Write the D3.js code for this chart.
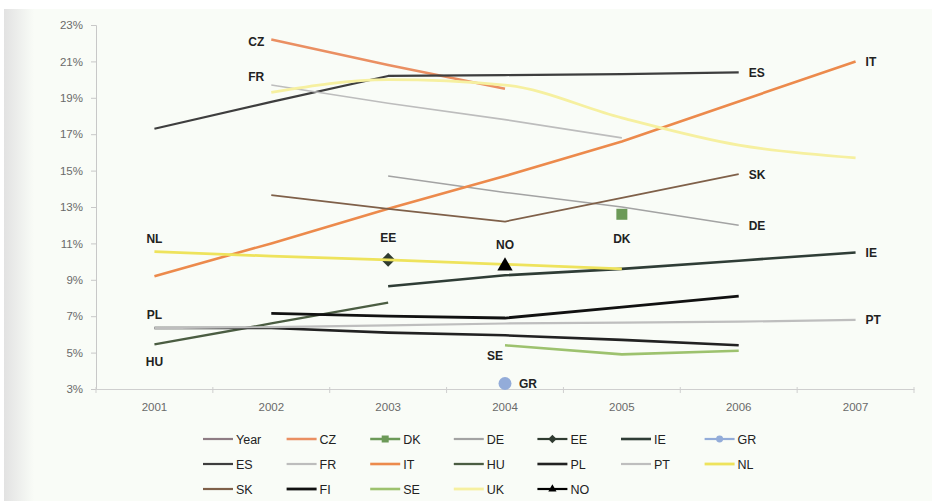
<!DOCTYPE html>
<html><head><meta charset="utf-8">
<script src="https://cdn.jsdelivr.net/npm/d3@7"></script>
<style>html,body{margin:0;padding:0;background:#fff;}svg{display:block;font-family:"Liberation Sans",Arial,sans-serif;}</style>
</head><body>
<svg id="c" width="932" height="501"></svg>
<script>
const years = ["2001","2002","2003","2004","2005","2006","2007"];
const yTicks = [3,5,7,9,11,13,15,17,19,21,23];
const seriesNames = ["Year","CZ","DK","DE","EE","IE","GR","ES","FR","IT","HU","PL","PT","NL","SK","FI","SE","UK","NO"];
const Year = [null,null,null,null,null,null,null];
const CZ = [null,22.2,20.8,19.5,null,null,null];
const DK = [null,null,null,null,12.6,null,null];
const DE = [null,null,14.7,13.8,13.0,12.0,null];
const EE = [null,null,10.1,null,null,null,null];
const IE = [null,null,8.65,9.25,9.6,10.05,10.5];
const GR = [null,null,null,3.3,null,null,null];
const ES = [17.3,18.78,20.2,20.25,20.3,20.4,null];
const FR = [null,19.7,18.7,17.8,16.8,null,null];
const IT = [9.2,11.0,12.9,14.7,16.6,18.8,21.0];
const HU = [5.45,6.6,7.75,null,null,null,null];
const PL = [6.35,6.35,6.1,5.95,5.7,5.4,null];
const PT = [6.35,6.4,6.5,6.6,6.65,6.7,6.8];
const NL = [10.55,10.3,10.1,9.85,9.6,null,null];
const SK = [null,13.65,12.9,12.2,13.5,14.8,null];
const FI = [null,7.15,7.0,6.9,7.5,8.1,null];
const SE = [null,null,null,5.4,4.9,5.1,null];
const UK = [null,19.3,20.0,19.7,17.9,16.4,15.7];
const NO = [null,null,null,9.7,null,null,null];
// label: series, index of point, placement
const labels = [
  ["CZ",1,"left"],["FR",1,"leftAbove"],["ES",5,"right"],["IT",6,"right"],
  ["SK",5,"right"],["DE",5,"right"],["DK",4,"below"],["EE",2,"above"],
  ["NO",3,"above"],["NL",0,"above"],["IE",6,"right"],["PL",0,"above"],
  ["PT",6,"right"],["HU",0,"below"],["SE",3,"leftBelow"],["GR",3,"right"]
];

const values = {Year,CZ,DK,DE,EE,IE,GR,ES,FR,IT,HU,PL,PT,NL,SK,FI,SE,UK,NO};
const style = {
  Year:{c:"#8e7c84",w:2},
  CZ:{c:"#ea8f62",w:2.5},
  DK:{c:"#6c9a58",w:2.5,m:"square",ms:11},
  DE:{c:"#a3a3a3",w:1.5},
  EE:{c:"#2f3b30",w:2,m:"diamond",ms:10},
  IE:{c:"#2f3d36",w:2.6},
  GR:{c:"#93acd9",w:2,m:"circle",ms:13},
  ES:{c:"#3e3e3e",w:2.2},
  FR:{c:"#bdbdbd",w:1.6},
  IT:{c:"#ec8a4c",w:2.6},
  HU:{c:"#4b5d42",w:2.3},
  PL:{c:"#222222",w:2.6},
  PT:{c:"#bebebe",w:2.2},
  NL:{c:"#eee35c",w:2.8},
  SK:{c:"#7f6049",w:1.8},
  FI:{c:"#111111",w:2.8},
  SE:{c:"#9dc26e",w:2.6},
  UK:{c:"#f6f0a0",w:2.8,curve:true},
  NO:{c:"#000000",w:2,m:"triangle",ms:13}
};

const svg = d3.select("#c");
const defs = svg.append("defs");
const g1 = defs.append("linearGradient").attr("id","lg").attr("x1","0").attr("x2","1");
g1.append("stop").attr("offset","0").attr("stop-color","#e2e2e2");
g1.append("stop").attr("offset","1").attr("stop-color","#f9fcf7");
svg.append("rect").attr("x",4).attr("y",9).attr("width",928).attr("height",492).attr("fill","#f9fcf7");
svg.append("rect").attr("x",4).attr("y",9).attr("width",30).attr("height",492).attr("fill","url(#lg)");

const pL=96, pR=914, pT=25, pB=389;
const x = d3.scaleBand().domain(years).range([pL,pR]);
const y = d3.scaleLinear().domain([3,23]).range([pB,pT]);
const cx = i => x(years[i]) + x.bandwidth()/2;

// axes
const ya = svg.append("g").attr("transform",`translate(${pL},0)`)
  .call(d3.axisLeft(y).tickValues(yTicks).tickSize(5).tickPadding(8).tickFormat(d=>d+"%"));
ya.select(".domain").attr("stroke","#c8c8c8");
ya.selectAll(".tick line").attr("stroke","#c8c8c8");
ya.selectAll("text").attr("fill","#6a6a6a").attr("font-size",11.5);

const xa = svg.append("g").attr("transform",`translate(0,${pB})`)
  .call(d3.axisBottom(x).tickSize(0).tickPadding(14));
xa.select(".domain").attr("stroke","#cfcfcf");
xa.selectAll("text").attr("fill","#6a6a6a").attr("font-size",11.5);
const bounds = years.map((d,i)=>pL + i*x.step()).concat([pR]);
svg.append("g").selectAll("line").data(bounds).join("line")
  .attr("x1",d=>d).attr("x2",d=>d).attr("y1",pB-2).attr("y2",pB+4)
  .attr("stroke","#cfcfcf");

// lines
const plot = svg.append("g");
const markerPath = (type,size) => {
  if(type==="diamond") return `M0,${-size*0.7}L${size*0.7},0L0,${size*0.7}L${-size*0.7},0Z`;
  const sym = {square:d3.symbolSquare,circle:d3.symbolCircle,triangle:d3.symbolTriangle}[type];
  return d3.symbol().type(sym).size(size*size*(type==="circle"?0.78:type==="triangle"?0.6:1))();
};
seriesNames.forEach(name=>{
  const vals = values[name], st = style[name];
  const pts = vals.map((v,i)=>({i,v}));
  const line = d3.line().defined(d=>d.v!==null).x(d=>cx(d.i)).y(d=>y(d.v))
    .curve(st.curve?d3.curveMonotoneX:d3.curveLinear);
  plot.append("path").datum(pts).attr("d",line).attr("fill","none")
    .attr("stroke",st.c).attr("stroke-width",st.w).attr("stroke-linejoin","round");
  if(st.m){
    plot.selectAll(null).data(pts.filter(d=>d.v!==null)).join("path")
      .attr("d",markerPath(st.m,st.ms))
      .attr("transform",d=>`translate(${cx(d.i)},${y(d.v)+(st.m==="triangle"?-1:0)})`)
      .attr("fill",st.c);
  }
});

// data labels
const lab = svg.append("g").attr("font-size",12).attr("font-weight","bold").attr("fill","#222");
labels.forEach(([name,i,place])=>{
  const px = cx(i), py = y(values[name][i]);
  const ext = style[name].m ? 9 : 0;
  let tx=px, ty=py, anchor="middle";
  if(place==="left"){tx=px-7; ty=py+2; anchor="end";}
  else if(place==="leftAbove"){tx=px-7; ty=py-8; anchor="end";}
  else if(place==="right"){tx=px+10+(ext?4:0); ty=py; anchor="start";}
  else if(place==="above"){ty=py-13-ext;}
  else if(place==="below"){ty=py+17+ext-(ext?2:0);}
  else if(place==="leftBelow"){tx=px-2; ty=py+10; anchor="end";}
  lab.append("text").attr("x",tx).attr("y",ty).attr("dy","0.36em")
    .attr("text-anchor",anchor).text(name);
});

// legend
const leg = svg.append("g").attr("font-size",12.5).attr("fill","#222");
const rowsY=[439,464,489], colX0=203, colStep=83.6;
seriesNames.forEach((name,k)=>{
  const r=Math.floor(k/7), c=k%7, st=style[name];
  const lx = colX0 + c*colStep, ly = rowsY[r];
  const it = leg.append("g");
  it.append("line").attr("x1",lx).attr("x2",lx+30).attr("y1",ly).attr("y2",ly)
    .attr("stroke",st.c).attr("stroke-width",Math.max(2.2,st.w));
  if(st.m){
    it.append("path").attr("d",markerPath(st.m,st.m==="diamond"?6:7)).attr("transform",`translate(${lx+15},${ly})`).attr("fill",st.c);
  }
  it.append("text").attr("x",lx+33).attr("y",ly).attr("dy","0.36em").text(name);
});
</script>
</body></html>
